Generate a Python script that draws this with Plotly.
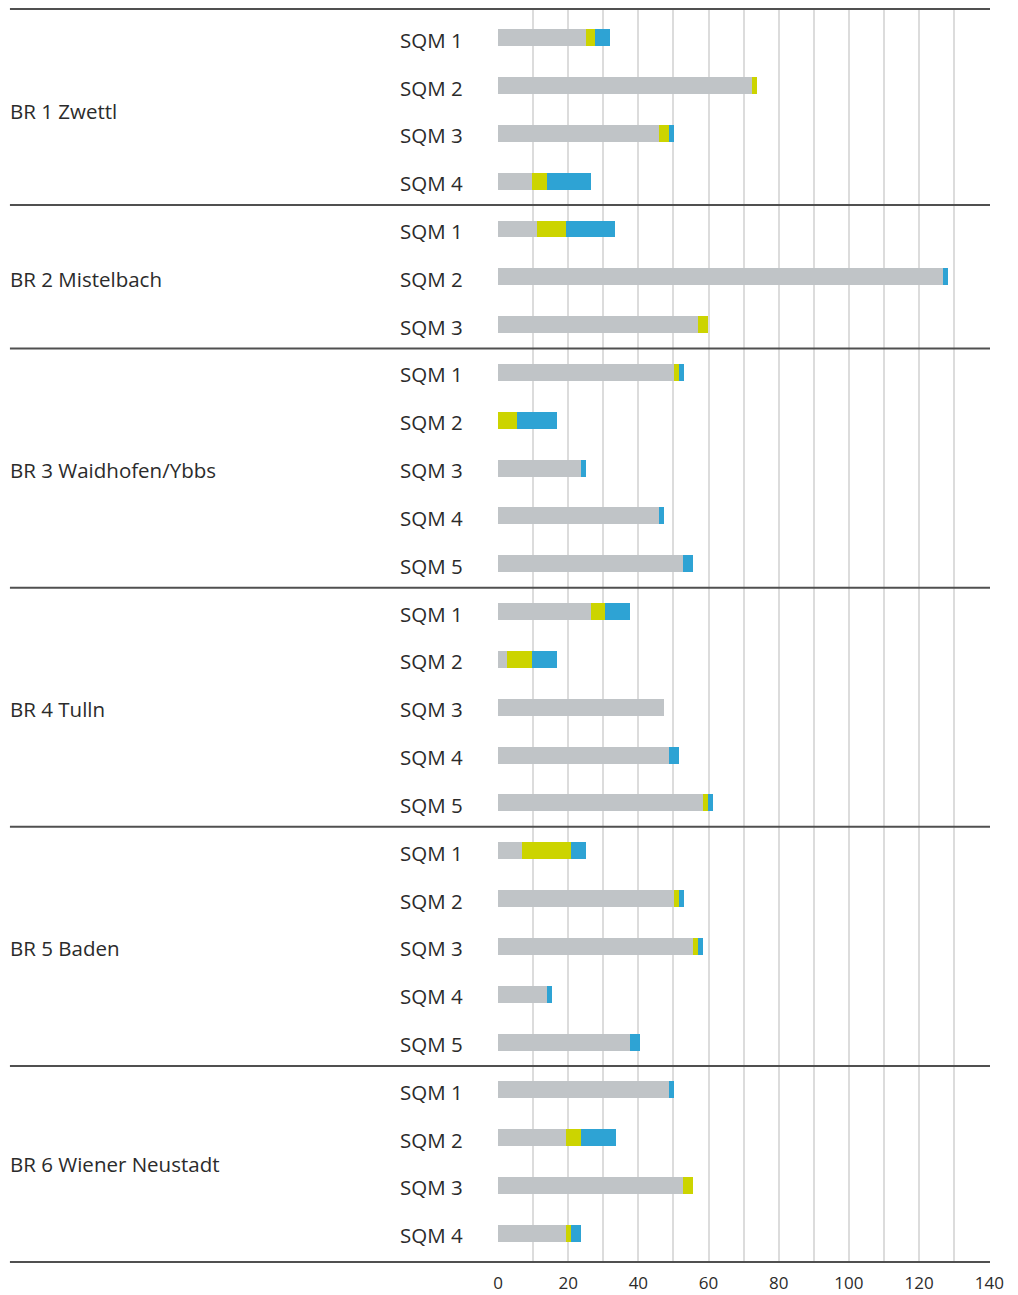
import plotly.graph_objects as go

# ---- data ----
groups = ["BR 1 Zwettl", "BR 2 Mistelbach", "BR 3 Waidhofen/Ybbs",
          "BR 4 Tulln", "BR 5 Baden", "BR 6 Wiener Neustadt"]
group_sizes = [4, 3, 5, 5, 5, 4]
row_labels = ["SQM 1", "SQM 2", "SQM 3", "SQM 4",
              "SQM 1", "SQM 2", "SQM 3",
              "SQM 1", "SQM 2", "SQM 3", "SQM 4", "SQM 5",
              "SQM 1", "SQM 2", "SQM 3", "SQM 4", "SQM 5",
              "SQM 1", "SQM 2", "SQM 3", "SQM 4", "SQM 5",
              "SQM 1", "SQM 2", "SQM 3", "SQM 4"]
gray_vals = [25.0, 72.5, 45.9, 9.6,
             11.0, 126.8, 57.0,
             50.2, 0.0, 23.6, 45.9, 52.8,
             26.5, 2.5, 47.3, 48.8, 58.5,
             6.8, 50.2, 55.6, 13.9, 37.6,
             48.8, 19.3, 52.8, 19.3]
yellow_vals = [2.6, 1.4, 2.9, 4.3,
               8.3, 0.0, 2.9,
               1.4, 5.3, 0.0, 0.0, 0.0,
               4.0, 7.1, 0.0, 0.0, 1.4,
               14.0, 1.4, 1.4, 0.0, 0.0,
               0.0, 4.3, 2.8, 1.5]
blue_vals = [4.3, 0.0, 1.4, 12.6,
             14.0, 1.4, 0.0,
             1.4, 11.4, 1.4, 1.4, 2.9,
             7.1, 7.1, 0.0, 2.9, 1.4,
             4.3, 1.4, 1.5, 1.4, 2.9,
             1.4, 10.0, 0.0, 2.8]
x_ticks = [0, 20, 40, 60, 80, 100, 120, 140]

# ---- styling ----
FONT = "Open Sans"
TXT = "#2b2b2b"
C_GRAY, C_YEL, C_BLUE = "#c0c4c7", "#ccd400", "#2ea3d4"
n = len(row_labels)
rows = list(range(n))
PAD = 0.6
y_lo, y_hi = -PAD, n - 1 + PAD

fig = go.Figure()
for vals, col in [(gray_vals, C_GRAY), (yellow_vals, C_YEL), (blue_vals, C_BLUE)]:
    fig.add_trace(go.Bar(x=vals, y=rows, orientation="h", width=0.355,
                         marker=dict(color=col, line=dict(width=0)),
                         showlegend=False))

def yfrac(v):
    return (y_hi - v) / (y_hi - y_lo)

shapes = []
annotations = []
XL = -0.996
XR = -33 / 492  # right edge of row labels, relative to plot width

for r, lab in zip(rows, row_labels):
    annotations.append(dict(text=lab, x=XR, xref="paper", y=r, yref="y",
                            xanchor="right", yanchor="middle", showarrow=False,
                            yshift=-2,
                            font=dict(family=FONT, size=20.5, color=TXT)))

start = 0
bounds = [y_lo]
for g, size in zip(groups, group_sizes):
    end = start + size
    center = (start + end - 1) / 2
    annotations.append(dict(text=g, x=XL, xref="paper", y=center, yref="y",
                            xanchor="left", yanchor="middle", showarrow=False,
                            yshift=-2,
                            font=dict(family=FONT, size=20.5, color=TXT)))
    bounds.append(end - 0.5 if end < n else y_hi)
    start = end
for b in bounds:
    shapes.append(dict(type="line", xref="paper", yref="paper",
                       x0=-0.992, x1=1.0, y0=yfrac(b), y1=yfrac(b),
                       line=dict(color="#505050", width=2)))

fig.update_layout(
    width=1010, height=1287,
    margin=dict(l=490, r=28, t=1, b=33),
    paper_bgcolor="white", plot_bgcolor="white",
    barmode="stack", bargap=0,
    shapes=shapes, annotations=annotations,
    font=dict(family=FONT, color=TXT),
    xaxis=dict(range=[0, 140.2], tickvals=x_ticks, showgrid=True,
               gridcolor="#dcdcdc", gridwidth=1.5, zeroline=False,
               showline=False, ticks="", ticklabelstandoff=9, automargin=False,
               tickfont=dict(family=FONT, size=17, color=TXT),
               minor=dict(dtick=10, showgrid=True, gridcolor="#dcdcdc", gridwidth=1.5)),
    yaxis=dict(range=[y_hi, y_lo], showticklabels=False,
               showgrid=False, zeroline=False, showline=False, ticks="",
               automargin=False),
)

fig.write_html("out.html")
